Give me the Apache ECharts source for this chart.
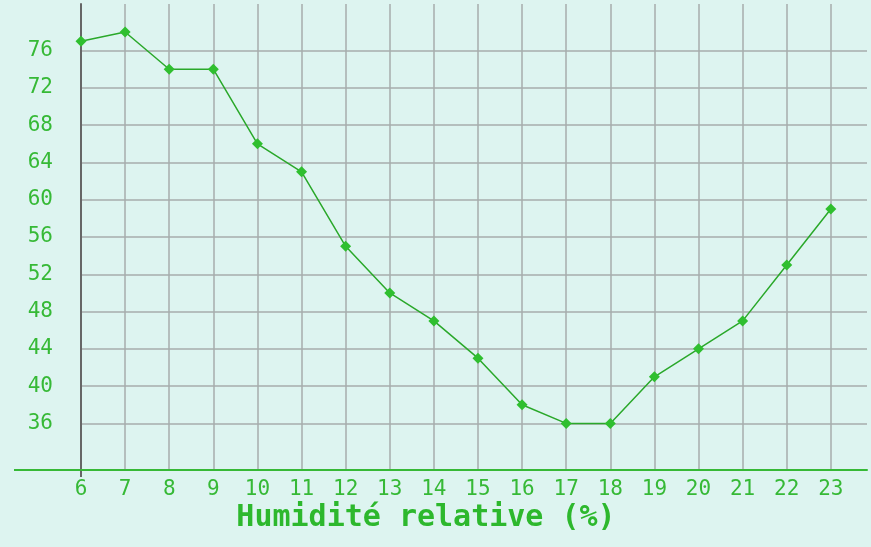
<!DOCTYPE html>
<html>
<head>
<meta charset="utf-8">
<script src="https://cdn.jsdelivr.net/npm/echarts@6/dist/echarts.min.js"></script>
<style>
  html, body { margin: 0; padding: 0; background: #ddf4f0; }
  #chart { width: 871px; height: 547px; }
</style>
</head>
<body>
<div id="chart"></div>
<script>
// heures et humidité relative (%)
var hours = [6, 7, 8, 9, 10, 11, 12, 13, 14, 15, 16, 17, 18, 19, 20, 21, 22, 23];
var humidity = [77, 78, 74, 74, 66, 63, 55, 50, 47, 43, 38, 36, 36, 41, 44, 47, 53, 59];
var yTicks = [36, 40, 44, 48, 52, 56, 60, 64, 68, 72, 76];

var green = '#36b936';
var labelFont = { color: green, fontFamily: 'DejaVu Sans Mono', fontSize: 21 };

var option = {
    backgroundColor: '#ddf4f0',
    animation: false,
    grid: { left: 81, right: 4, top: 4, bottom: 77 },
    xAxis: {
        type: 'value',
        min: 6,
        max: 23.82,
        axisLine: { show: true, lineStyle: { color: green, width: 2 } },
        axisTick: { show: false, customValues: hours },
        axisLabel: Object.assign({ customValues: hours, margin: 9 }, labelFont),
        splitLine: { show: true, lineStyle: { color: '#a6acac', width: 1.5 } }
    },
    yAxis: {
        type: 'value',
        min: 31,
        max: 81,
        axisLine: { show: true, lineStyle: { color: '#666666', width: 2 } },
        axisTick: { show: false, customValues: yTicks },
        axisLabel: Object.assign({ customValues: yTicks, margin: 28 }, labelFont),
        splitLine: { show: true, lineStyle: { color: '#a6acac', width: 1.5 } }
    },
    graphic: [
        {
            type: 'line',
            shape: { x1: 14, y1: 470, x2: 81, y2: 470 },
            style: { stroke: green, lineWidth: 2 }
        },
        {
            type: 'line',
            shape: { x1: 81, y1: 470, x2: 81, y2: 477 },
            style: { stroke: '#666666', lineWidth: 2 }
        },
        {
            type: 'text',
            x: 426,
            y: 518,
            style: {
                text: 'Humidité relative (%)',
                fill: '#2db82d',
                font: 'bold 30px "DejaVu Sans Mono"',
                align: 'center',
                verticalAlign: 'middle'
            }
        }
    ],
    series: [{
        type: 'line',
        data: hours.map(function (h, i) { return [h, humidity[i]]; }),
        symbol: 'diamond',
        symbolSize: 11,
        lineStyle: { color: '#2aa82a', width: 1.5 },
        itemStyle: { color: '#2fbf2f' },
        z: 5
    }]
};

var chart = echarts.init(document.getElementById('chart'));
chart.setOption(option);
</script>
</body>
</html>
